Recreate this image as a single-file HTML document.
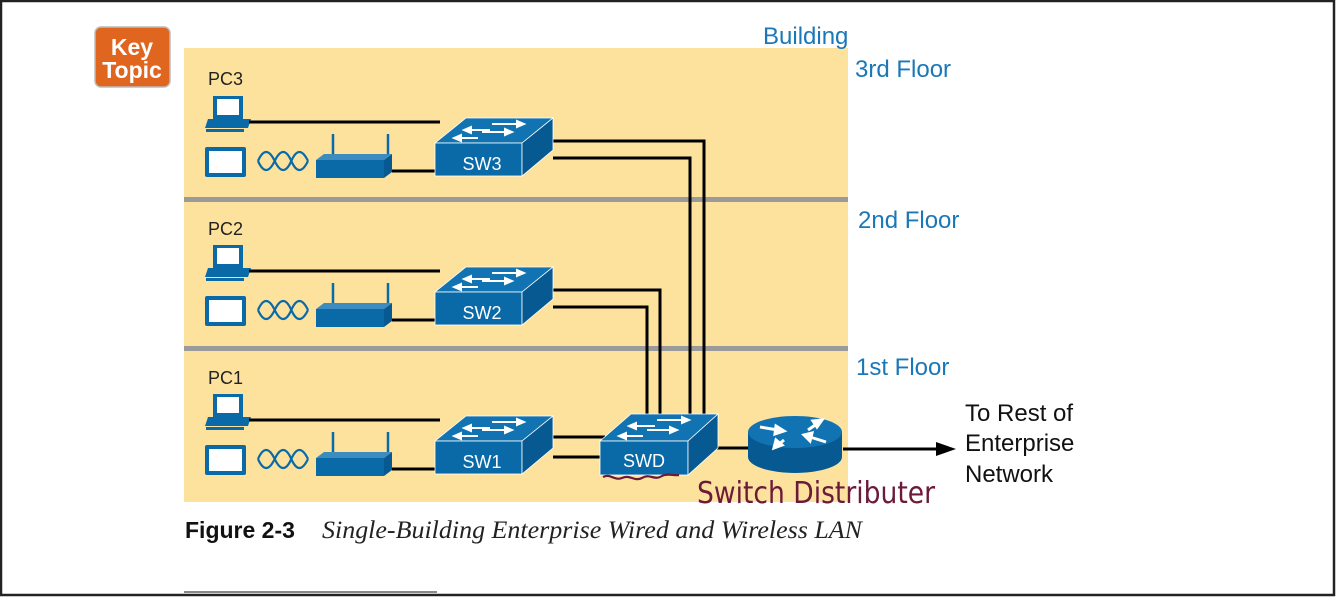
<!DOCTYPE html>
<html><head><meta charset="utf-8"><style>
html,body{margin:0;padding:0;background:#fff}
svg{display:block}
</style></head><body>
<svg width="1337" height="597" viewBox="0 0 1337 597" xmlns="http://www.w3.org/2000/svg" font-family="Liberation Sans, sans-serif">
<defs>
<g id="floor">
  <rect x="213" y="96" width="30" height="23" fill="#0a6aa8"/>
  <rect x="217" y="99" width="22" height="16" fill="#fff"/>
  <polygon points="208,119 251,119 248,128 205,128" fill="#0a6aa8"/>
  <rect x="206" y="129" width="38" height="3" fill="#0a6aa8"/>
  <line x1="249" y1="122" x2="440" y2="122" stroke="#000" stroke-width="3"/>
  <rect x="205" y="147" width="41" height="30" rx="2" fill="#0a6aa8"/>
  <rect x="209" y="151" width="33" height="22" fill="#fff"/>
  <path d="M258,161 Q266,143 274.7,161 T291.3,161 T308,161" fill="none" stroke="#0a6aa8" stroke-width="2.2"/>
  <path d="M258,161 Q266,179 274.7,161 T291.3,161 T308,161" fill="none" stroke="#0a6aa8" stroke-width="2.2"/>
  <line x1="333" y1="134" x2="333" y2="155" stroke="#0a6aa8" stroke-width="2.5"/>
  <line x1="388" y1="134" x2="388" y2="155" stroke="#0a6aa8" stroke-width="2.5"/>
  <polygon points="316,160 324,154 392,154 384,160" fill="#3d8cbf"/>
  <rect x="316" y="160" width="68" height="18" fill="#0a6aa8"/>
  <polygon points="384,160 392,154 392,172 384,178" fill="#075a91"/>
  <line x1="392" y1="171" x2="440" y2="171" stroke="#000" stroke-width="3"/>
  <polygon points="435,143 466,118 553,118 522,143" fill="#1173b2" stroke="#fff" stroke-width="0.8"/>
  <rect x="435" y="143" width="87" height="33" fill="#0a6aa8" stroke="#fff" stroke-width="0.8"/>
  <polygon points="522,143 553,118 553,150 522,176" fill="#075a91" stroke="#fff" stroke-width="0.8"/>
  <g stroke="#fff" stroke-width="2" fill="#fff">
    <line x1="492" y1="124" x2="520" y2="124"/><polygon points="524,124 517,121 517,127"/>
    <line x1="468" y1="130" x2="490" y2="130"/><polygon points="464,130 471,127 471,133"/>
    <line x1="482" y1="132" x2="508" y2="132"/><polygon points="512,132 505,129 505,135"/>
    <line x1="458" y1="138" x2="478" y2="138"/><polygon points="454,138 461,135 461,141"/>
  </g>
</g>
</defs>
<rect x="0" y="0" width="1337" height="597" fill="#fff"/>
<rect x="1" y="1" width="1333" height="594" fill="none" stroke="#222" stroke-width="2.5"/>
<rect x="95" y="27" width="75" height="60" rx="6" fill="#e0651e" stroke="#bbb" stroke-width="1.5"/>
<text x="132" y="55" font-size="23" font-weight="bold" fill="#fff" text-anchor="middle">Key</text>
<text x="132" y="78" font-size="23" font-weight="bold" fill="#fff" text-anchor="middle">Topic</text>
<rect x="184" y="48" width="664" height="454" fill="#fde29e"/>
<rect x="184" y="197" width="664" height="5" fill="#9a9a9a"/>
<rect x="184" y="346" width="664" height="5" fill="#9a9a9a"/>
<g font-size="24" fill="#1a78b8">
<text x="763" y="44">Building</text>
<text x="855" y="77">3rd Floor</text>
<text x="858" y="228">2nd Floor</text>
<text x="856" y="375">1st Floor</text>
</g>
<g font-size="18" fill="#222">
<text x="208" y="85">PC3</text>
<text x="208" y="235">PC2</text>
<text x="208" y="384">PC1</text>
</g>
<g stroke="#000" stroke-width="3" fill="none">
<polyline points="553,141 704,141 704,418"/>
<polyline points="553,158 690,158 690,418"/>
<polyline points="553,290 660,290 660,420"/>
<polyline points="553,307 647,307 647,420"/>
<line x1="553" y1="437" x2="605" y2="437"/>
<line x1="553" y1="457" x2="605" y2="457"/>
<line x1="715" y1="448" x2="752" y2="448"/>
<line x1="843" y1="449" x2="940" y2="449"/>
</g>
<polygon points="956,449 936,442 936,456" fill="#000"/>
<use href="#floor"/>
<use href="#floor" transform="translate(0,149)"/>
<use href="#floor" transform="translate(0,298)"/>
<g font-size="18" fill="#fff" text-anchor="middle">
<text x="482" y="170">SW3</text>
<text x="482" y="319">SW2</text>
<text x="482" y="468">SW1</text>
</g>
<polygon points="600,441 631,414 718,414 688,441" fill="#1173b2" stroke="#fff" stroke-width="0.8"/>
<rect x="600" y="441" width="88" height="34" fill="#0a6aa8" stroke="#fff" stroke-width="0.8"/>
<polygon points="688,441 718,414 718,448 688,475" fill="#075a91" stroke="#fff" stroke-width="0.8"/>
<g stroke="#fff" stroke-width="2" fill="#fff">
<line x1="657" y1="420" x2="685" y2="420"/><polygon points="689,420 682,417 682,423"/>
<line x1="633" y1="426" x2="655" y2="426"/><polygon points="629,426 636,423 636,429"/>
<line x1="647" y1="430" x2="673" y2="430"/><polygon points="677,430 670,427 670,433"/>
<line x1="623" y1="436" x2="643" y2="436"/><polygon points="619,436 626,433 626,439"/>
</g>
<text x="644" y="467" font-size="18" fill="#fff" text-anchor="middle">SWD</text>
<path d="M748,432 L748,457 A47,16 0 0 0 842,457 L842,432 Z" fill="#075a91"/>
<ellipse cx="795" cy="432" rx="47" ry="16" fill="#1173b2"/>
<g stroke="#fff" stroke-width="3" fill="#fff">
<line x1="760" y1="427" x2="778" y2="430"/><polygon points="784,431 776,426 775,434"/>
<line x1="808" y1="430" x2="818" y2="423"/><polygon points="822,420 813,421 817,427"/>
<line x1="826" y1="442" x2="810" y2="437"/><polygon points="804,435 812,433 810,441"/>
<line x1="784" y1="440" x2="778" y2="445"/><polygon points="774,448 776,440 782,445"/>
</g>
<g font-size="24" fill="#111">
<text x="965" y="421">To Rest of</text>
<text x="965" y="451">Enterprise</text>
<text x="965" y="482">Network</text>
</g>
<path d="M603,477 C610,473 614,481 622,478 C630,474 634,482 642,478 C650,473 654,481 662,476 C668,473 674,476 679,475" fill="none" stroke="#6b1a3a" stroke-width="2.2"/>
<text x="697" y="503" font-size="30" fill="#6b1a3a" font-family="DejaVu Sans, sans-serif" textLength="238" lengthAdjust="spacingAndGlyphs">Switch Distributer</text>
<text x="185" y="538" font-size="23" font-weight="bold" fill="#111">Figure 2-3</text>
<text x="322" y="538" font-size="25" font-style="italic" fill="#222" font-family="Liberation Serif, serif" textLength="540" lengthAdjust="spacingAndGlyphs">Single-Building Enterprise Wired and Wireless LAN</text>
<rect x="184" y="591" width="253" height="2" fill="#888"/>
</svg>
</body></html>
